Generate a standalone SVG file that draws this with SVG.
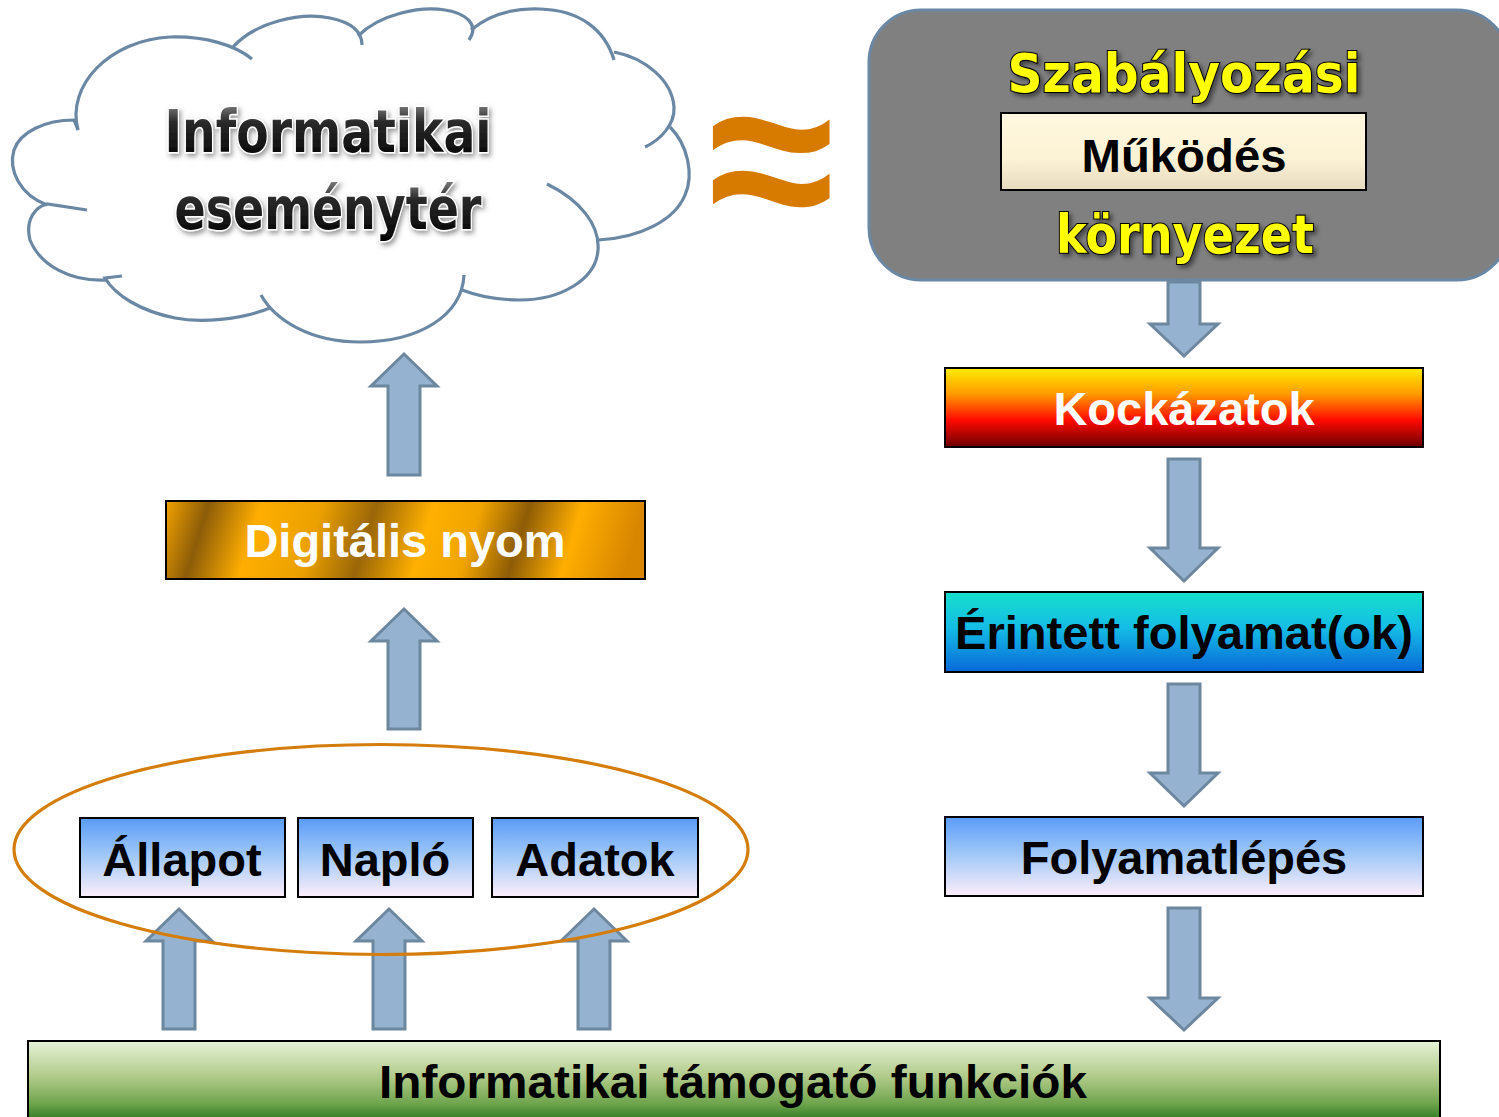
<svg xmlns="http://www.w3.org/2000/svg" width="1499" height="1117" viewBox="0 0 1499 1117">
  <defs>
    <linearGradient id="gKock" x1="0" y1="0" x2="0" y2="1">
      <stop offset="0" stop-color="#ffee00"/>
      <stop offset="0.33" stop-color="#ff9a00"/>
      <stop offset="0.66" stop-color="#ff0a00"/>
      <stop offset="1" stop-color="#6a0000"/>
    </linearGradient>
    <linearGradient id="gErin" x1="0" y1="0" x2="0" y2="1">
      <stop offset="0" stop-color="#16e0cc"/>
      <stop offset="0.45" stop-color="#14bce6"/>
      <stop offset="1" stop-color="#0868d8"/>
    </linearGradient>
    <linearGradient id="gBlue" x1="0" y1="0" x2="0" y2="1">
      <stop offset="0" stop-color="#5a9cf8"/>
      <stop offset="0.5" stop-color="#a4caf8"/>
      <stop offset="1" stop-color="#fdeefb"/>
    </linearGradient>
    <linearGradient id="gGreen" x1="0" y1="0" x2="0" y2="1">
      <stop offset="0" stop-color="#e6f2d8"/>
      <stop offset="0.4" stop-color="#b0ca88"/>
      <stop offset="0.7" stop-color="#6ea44c"/>
      <stop offset="0.88" stop-color="#2e7a22"/>
      <stop offset="1" stop-color="#2a701e"/>
    </linearGradient>
    <linearGradient id="gCream" x1="0" y1="0" x2="0" y2="1">
      <stop offset="0" stop-color="#fff8de"/>
      <stop offset="0.6" stop-color="#fcf2d6"/>
      <stop offset="1" stop-color="#e6dabd"/>
    </linearGradient>
    <linearGradient id="gGold" x1="0" y1="0" x2="1" y2="0.05">
      <stop offset="0" stop-color="#f2a200"/>
      <stop offset="0.09" stop-color="#8c5c08"/>
      <stop offset="0.2" stop-color="#ffae00"/>
      <stop offset="0.33" stop-color="#eaa000"/>
      <stop offset="0.44" stop-color="#9a6608"/>
      <stop offset="0.56" stop-color="#ffb000"/>
      <stop offset="0.66" stop-color="#f0a400"/>
      <stop offset="0.76" stop-color="#8e5c06"/>
      <stop offset="0.87" stop-color="#ffae00"/>
      <stop offset="1" stop-color="#d88600"/>
    </linearGradient>
    <linearGradient id="gShine" x1="0" y1="0" x2="0" y2="1">
      <stop offset="0" stop-color="#9a9a9a"/>
      <stop offset="0.35" stop-color="#2a2a2a"/>
      <stop offset="1" stop-color="#000000"/>
    </linearGradient>
    <filter id="shadow" x="-10%" y="-30%" width="120%" height="160%">
      <feDropShadow dx="3" dy="3" stdDeviation="2" flood-color="#000" flood-opacity="0.45"/>
    </filter>
    <filter id="glow" x="-10%" y="-30%" width="120%" height="160%">
      <feDropShadow dx="2" dy="3" stdDeviation="2.5" flood-color="#555" flood-opacity="0.6"/>
    </filter>
  </defs>
  <style>
    .box { stroke: #000; stroke-width: 2; }
    .lbl { font-family: "Liberation Sans", Arial, sans-serif; font-weight: bold; font-size: 47px; text-anchor: middle; }
    .arrow { fill: #95b3d1; stroke: #6d879f; stroke-width: 3; stroke-linejoin: miter; }
    .cloud { fill: none; stroke: #6a87a3; stroke-width: 3.2; stroke-linecap: butt; }
    .geo { font-family: "DejaVu Sans", "Liberation Sans", sans-serif; font-weight: bold; text-anchor: middle; }
  </style>

  <rect width="1499" height="1117" fill="#ffffff"/>

  <!-- cloud: informatikai eseménytér -->
  <g id="cloud">
    <path class="cloud" d="M78,130 C66,85 110,40 170,37 C205,36 235,45 252,59"/>
    <path class="cloud" d="M232,48 C255,22 300,12 330,18 C350,22 362,30 362,45"/>
    <path class="cloud" d="M358,36 C380,14 420,6 445,10 C465,13 480,24 469,40"/>
    <path class="cloud" d="M471,30 C490,14 515,8 540,9 C580,10 605,30 614,60"/>
    <path class="cloud" d="M614,52 C645,58 672,80 674,107 C675,125 660,140 645,147"/>
    <path class="cloud" d="M670,127 C688,145 694,175 685,195 C675,220 640,238 598,240"/>
    <path class="cloud" d="M547,184 C580,200 600,225 598,250 C596,280 560,300 520,300 C495,300 475,295 462,290"/>
    <path class="cloud" d="M464,275 C462,315 420,342 360,342 C310,342 275,320 261,295"/>
    <path class="cloud" d="M270,308 C240,320 200,323 175,318 C140,311 115,295 105,278 L122,276"/>
    <path class="cloud" d="M107,280 C70,282 40,265 30,240 C25,220 35,207 47,204 L87,210"/>
    <path class="cloud" d="M47,205 C20,195 8,170 14,150 C20,132 45,120 74,120 L78,130"/>
    <g class="geo" font-size="58" fill="url(#gShine)" stroke="#ffffff" stroke-width="3" paint-order="stroke" filter="url(#glow)">
      <text x="328" y="152" textLength="327" lengthAdjust="spacingAndGlyphs">Informatikai</text>
      <text x="328" y="229" textLength="307" lengthAdjust="spacingAndGlyphs">eseménytér</text>
    </g>
  </g>

  <!-- approximately equal sign -->
  <g id="approx">
    <text x="771" y="238" font-family="Liberation Sans, Arial, sans-serif" font-weight="bold" font-size="230" fill="#d67a00" text-anchor="middle">≈</text>
  </g>

  <!-- regulatory environment -->
  <g id="szabalyozasi">
    <rect x="869" y="10" width="640" height="270" rx="52" ry="52" fill="#808080" stroke="#6a87a3" stroke-width="3"/>
    <g class="geo" fill="#ffff00" stroke="#000" stroke-width="2.2" paint-order="stroke" filter="url(#shadow)">
      <text x="1184" y="92" font-size="53" textLength="353" lengthAdjust="spacingAndGlyphs">Szabályozási</text>
      <text x="1185" y="253" font-size="53" textLength="258" lengthAdjust="spacingAndGlyphs">környezet</text>
    </g>
  </g>
  <g id="mukodes">
    <rect class="box" x="1001" y="113" width="365" height="77" fill="url(#gCream)"/>
    <text class="lbl" x="1184" y="172" textLength="205" lengthAdjust="spacingAndGlyphs">Működés</text>
  </g>

  <!-- right column -->
  <g id="kockazatok">
    <rect class="box" x="945" y="368" width="478" height="79" fill="url(#gKock)"/>
    <text class="lbl" x="1184" y="425" fill="#ffffff">Kockázatok</text>
  </g>
  <g id="erintett">
    <rect class="box" x="945" y="592" width="478" height="80" fill="url(#gErin)"/>
    <text class="lbl" x="1184" y="649" textLength="458" lengthAdjust="spacingAndGlyphs">Érintett folyamat(ok)</text>
  </g>
  <g id="folyamatlepes">
    <rect class="box" x="945" y="817" width="478" height="79" fill="url(#gBlue)"/>
    <text class="lbl" x="1184" y="874">Folyamatlépés</text>
  </g>

  <!-- left column -->
  <g id="digitalis">
    <rect class="box" x="166" y="501" width="479" height="78" fill="url(#gGold)"/>
    <text class="lbl" x="405" y="557" fill="#ffffff">Digitális nyom</text>
  </g>
  <g id="allapot">
    <rect class="box" x="80" y="818" width="205" height="79" fill="url(#gBlue)"/>
    <text class="lbl" x="182" y="876">Állapot</text>
  </g>
  <g id="naplo">
    <rect class="box" x="298" y="818" width="175" height="79" fill="url(#gBlue)"/>
    <text class="lbl" x="385" y="876">Napló</text>
  </g>
  <g id="adatok">
    <rect class="box" x="492" y="818" width="206" height="79" fill="url(#gBlue)"/>
    <text class="lbl" x="595" y="876">Adatok</text>
  </g>

  <!-- support functions bar -->
  <g id="tamogato">
    <rect class="box" x="28" y="1041" width="1412" height="90" fill="url(#gGreen)"/>
    <text class="lbl" x="733" y="1098" textLength="708" lengthAdjust="spacingAndGlyphs">Informatikai támogató funkciók</text>
  </g>

  <!-- connectors -->
  <g id="connectors">
    <polygon class="arrow" points="1184,356 1218,324 1200,324 1200,282 1168,282 1168,324 1150,324"/>
    <polygon class="arrow" points="1184,581 1218,548 1200,548 1200,459 1168,459 1168,548 1150,548"/>
    <polygon class="arrow" points="1184,806 1218,773 1200,773 1200,684 1168,684 1168,773 1150,773"/>
    <polygon class="arrow" points="1184,1030 1218,998 1200,998 1200,908 1168,908 1168,998 1150,998"/>

    <polygon class="arrow" points="404,354 437,386 420,386 420,475 388,475 388,386 371,386"/>
    <polygon class="arrow" points="404,609 437,641 420,641 420,729 388,729 388,641 371,641"/>

    <polygon class="arrow" points="179,909 212,941 195,941 195,1029 163,1029 163,941 146,941"/>
    <polygon class="arrow" points="389,909 422,941 405,941 405,1029 373,1029 373,941 356,941"/>
    <polygon class="arrow" points="594,909 627,941 610,941 610,1029 578,1029 578,941 561,941"/>
  </g>

  <!-- grouping ellipse -->
  <g id="csoport">
    <ellipse cx="381" cy="849.5" rx="367" ry="105" fill="none" stroke="#d47d0c" stroke-width="3.2"/>
  </g>
</svg>
